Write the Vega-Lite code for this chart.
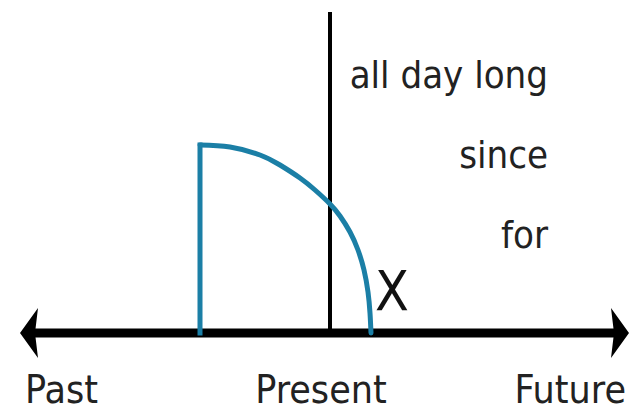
{
  "$schema": "https://vega.github.io/schema/vega-lite/v6.json",
  "width": 633,
  "height": 416,
  "autosize": {"type": "fit", "contains": "padding"},
  "padding": 0,
  "background": "white",
  "config": {"view": {"stroke": null}},
  "encoding": {
    "x": {"type": "quantitative", "scale": {"domain": [0, 633]}, "axis": null},
    "y": {"type": "quantitative", "scale": {"domain": [0, 416], "reverse": true}, "axis": null}
  },
  "layer": [
    {
      "data": {"values": [{"x": 25, "x2": 620, "y": 333}]},
      "mark": {"type": "rule", "color": "#000", "strokeWidth": 9},
      "encoding": {"x": {"field": "x", "type": "quantitative"}, "x2": {"field": "x2"}, "y": {"field": "y", "type": "quantitative"}}
    },
    {
      "data": {"values": [{"x": 330, "y": 12, "y2": 333}]},
      "mark": {"type": "rule", "color": "#000", "strokeWidth": 4},
      "encoding": {"x": {"field": "x", "type": "quantitative"}, "y": {"field": "y", "type": "quantitative"}, "y2": {"field": "y2"}}
    },
    {
      "data": {"values": [{"x": 29, "y": 333, "side": "left"}, {"x": 620, "y": 333, "side": "right"}]},
      "mark": {"type": "point", "filled": true, "color": "#000", "opacity": 1, "size": 2500},
      "encoding": {
        "x": {"field": "x", "type": "quantitative"},
        "y": {"field": "y", "type": "quantitative"},
        "shape": {"field": "side", "type": "nominal", "legend": null,
          "scale": {"domain": ["left", "right"], "range": ["M -0.36 0 L 0.36 -1 L 0.24 0 L 0.36 1 Z", "M 0.36 0 L -0.36 -1 L -0.24 0 L -0.36 1 Z"]}}
      }
    },
    {
      "data": {"values": [{"x": 200, "y": 145, "y2": 333}]},
      "mark": {"type": "rule", "color": "#1b7fa6", "strokeWidth": 5, "strokeCap": "square"},
      "encoding": {"x": {"field": "x", "type": "quantitative"}, "y": {"field": "y", "type": "quantitative"}, "y2": {"field": "y2"}}
    },
    {
      "data": {"values": [
        {"x": 200, "y": 145}, {"x": 230, "y": 147}, {"x": 260, "y": 155}, {"x": 280, "y": 165},
        {"x": 300, "y": 178}, {"x": 315, "y": 190}, {"x": 330, "y": 204}, {"x": 340, "y": 216},
        {"x": 350, "y": 232}, {"x": 358, "y": 250}, {"x": 364, "y": 270}, {"x": 368, "y": 292},
        {"x": 370, "y": 313}, {"x": 371, "y": 333}
      ]},
      "mark": {"type": "line", "color": "#1b7fa6", "strokeWidth": 5, "interpolate": "natural", "strokeCap": "round"},
      "encoding": {"x": {"field": "x", "type": "quantitative"}, "y": {"field": "y", "type": "quantitative"}}
    },
    {
      "data": {"values": [{"x": 548, "y": 88, "t": "all day long"}, {"x": 548, "y": 168, "t": "since"}, {"x": 548, "y": 248, "t": "for"}]},
      "mark": {"type": "text", "align": "right", "baseline": "alphabetic", "font": "DejaVu Sans Condensed", "fontSize": 38, "color": "#222"},
      "encoding": {"x": {"field": "x", "type": "quantitative"}, "y": {"field": "y", "type": "quantitative"}, "text": {"field": "t"}}
    },
    {
      "data": {"values": [{"x": 375, "y": 310, "t": "X"}]},
      "mark": {"type": "text", "align": "left", "baseline": "alphabetic", "font": "DejaVu Sans Condensed", "fontSize": 55, "color": "#111"},
      "encoding": {"x": {"field": "x", "type": "quantitative"}, "y": {"field": "y", "type": "quantitative"}, "text": {"field": "t"}}
    },
    {
      "data": {"values": [{"x": 25, "y": 403, "t": "Past"}]},
      "mark": {"type": "text", "align": "left", "baseline": "alphabetic", "font": "DejaVu Sans Condensed", "fontSize": 39, "color": "#222"},
      "encoding": {"x": {"field": "x", "type": "quantitative"}, "y": {"field": "y", "type": "quantitative"}, "text": {"field": "t"}}
    },
    {
      "data": {"values": [{"x": 321, "y": 403, "t": "Present"}]},
      "mark": {"type": "text", "align": "center", "baseline": "alphabetic", "font": "DejaVu Sans Condensed", "fontSize": 39, "color": "#222"},
      "encoding": {"x": {"field": "x", "type": "quantitative"}, "y": {"field": "y", "type": "quantitative"}, "text": {"field": "t"}}
    },
    {
      "data": {"values": [{"x": 626, "y": 403, "t": "Future"}]},
      "mark": {"type": "text", "align": "right", "baseline": "alphabetic", "font": "DejaVu Sans Condensed", "fontSize": 39, "color": "#222"},
      "encoding": {"x": {"field": "x", "type": "quantitative"}, "y": {"field": "y", "type": "quantitative"}, "text": {"field": "t"}}
    }
  ]
}
